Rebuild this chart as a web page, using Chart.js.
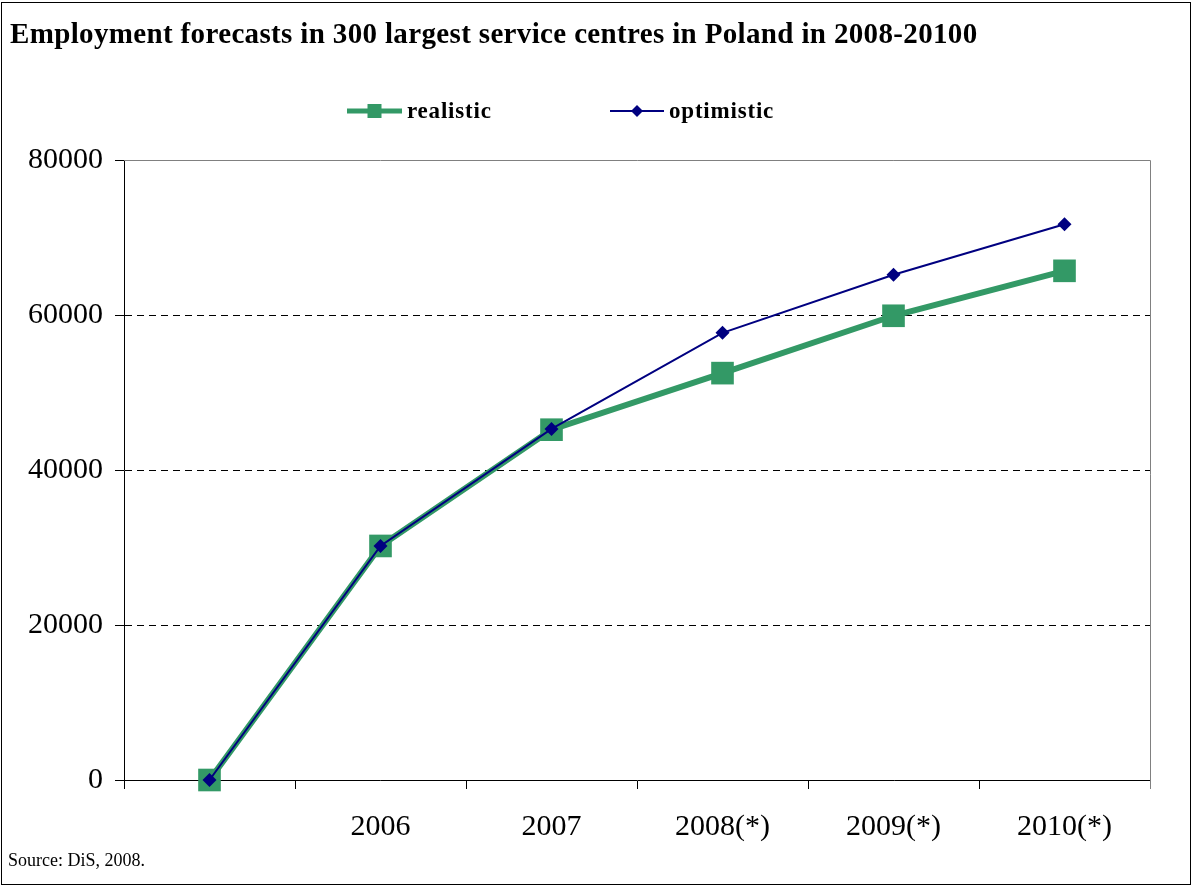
<!DOCTYPE html>
<html>
<head>
<meta charset="utf-8">
<script src="https://cdn.jsdelivr.net/npm/chart.js@4/dist/chart.umd.min.js"></script>
<style>
  html,body{margin:0;padding:0;background:#fff;}
  #wrap{position:relative;width:1192px;height:886px;overflow:hidden;}
  #frame{position:absolute;left:1px;top:2px;width:1190px;height:883px;border:1px solid #000;box-sizing:border-box;pointer-events:none;}
  #title{position:absolute;left:10px;top:19px;font:bold 29px/29px "Liberation Serif","Times New Roman",serif;color:#000;white-space:nowrap;letter-spacing:0.35px;}
  #source{position:absolute;left:8px;top:851px;font:18px/18px "Liberation Serif","Times New Roman",serif;color:#000;white-space:nowrap;}
  canvas{position:absolute;left:0;top:0;}
</style>
</head>
<body>
<div id="wrap">
  <canvas id="chart" width="1192" height="886"></canvas>
  <div id="title">Employment forecasts in 300 largest service centres in Poland in 2008-20100</div>
  <div id="source">Source: DiS, 2008.</div>
  <div id="frame"></div>
</div>
<script>
const years = ['', '2006', '2007', '2008(*)', '2009(*)', '2010(*)'];
const realistic = [0, 30200, 45200, 52500, 59900, 65700];
const optimistic = [0, 30200, 45300, 57700, 65200, 71700];
const yTicks = [0, 20000, 40000, 60000, 80000];

const GREEN = '#339966';
const NAVY = '#000080';
const SERIF = '"Liberation Serif","Times New Roman",serif';

/* grey box on top and right of the plot */
const plotBox = {
  id: 'plotBox',
  beforeDatasetsDraw(chart){
    const {ctx, chartArea:{left, top, right, bottom}} = chart;
    ctx.save();
    ctx.strokeStyle = '#808080';
    ctx.lineWidth = 1;
    ctx.beginPath();
    ctx.moveTo(left, top + 0.5);
    ctx.lineTo(right + 0.5, top + 0.5);
    ctx.lineTo(right + 0.5, bottom + 9);
    ctx.stroke();
    ctx.restore();
  }
};

/* legend: line + marker + bold label */
const lineLegend = {
  id: 'lineLegend',
  afterDraw(chart, args, opts){
    const {ctx} = chart;
    ctx.save();
    chart.data.datasets.forEach((ds, i) => {
      const it = opts.items[i];
      ctx.strokeStyle = ds.borderColor;
      ctx.lineWidth = it.lineWidth;
      ctx.beginPath();
      ctx.moveTo(it.x0, opts.y);
      ctx.lineTo(it.x1, opts.y);
      ctx.stroke();
      const cx = (it.x0 + it.x1) / 2;
      ctx.fillStyle = ds.pointBackgroundColor;
      ctx.beginPath();
      if (ds.pointStyle === 'rect') {
        ctx.rect(cx - it.size / 2, opts.y - it.size / 2, it.size, it.size);
      } else {
        ctx.moveTo(cx, opts.y - it.size / 2);
        ctx.lineTo(cx + it.size / 2, opts.y);
        ctx.lineTo(cx, opts.y + it.size / 2);
        ctx.lineTo(cx - it.size / 2, opts.y);
        ctx.closePath();
      }
      ctx.fill();
      ctx.fillStyle = '#000';
      ctx.font = 'bold 23px ' + SERIF;
      ctx.letterSpacing = '0.8px';
      ctx.textBaseline = 'middle';
      ctx.fillText(ds.label, it.x1 + 5, opts.y + 1);
    });
    ctx.restore();
  }
};

new Chart(document.getElementById('chart'), {
  type: 'line',
  data: {
    labels: years,
    datasets: [{
      label: 'realistic',
      data: realistic,
      borderColor: GREEN,
      backgroundColor: GREEN,
      pointBackgroundColor: GREEN,
      pointBorderColor: GREEN,
      borderWidth: 6,
      pointStyle: 'rect',
      pointRadius: 16,
      pointBorderWidth: 0,
      tension: 0,
      clip: false,
      order: 1
    }, {
      label: 'optimistic',
      data: optimistic,
      borderColor: NAVY,
      backgroundColor: NAVY,
      pointBackgroundColor: NAVY,
      pointBorderColor: NAVY,
      borderWidth: 2,
      pointStyle: 'rectRot',
      pointRadius: 7,
      pointBorderWidth: 0,
      tension: 0,
      clip: false,
      order: 0
    }]
  },
  options: {
    responsive: false,
    animation: false,
    devicePixelRatio: 1,
    layout: {padding: {top: 160, right: 42, left: 0, bottom: 0}},
    plugins: {
      legend: {display: false},
      title: {display: false},
      tooltip: {enabled: false},
      lineLegend: {
        y: 111,
        items: [
          {x0: 347, x1: 402, lineWidth: 5, size: 14},
          {x0: 610, x1: 664, lineWidth: 2, size: 12}
        ]
      }
    },
    scales: {
      x: {
        offset: true,
        afterFit(scale){ scale.height = 106; },
        grid: {offset: true, drawOnChartArea: false, drawTicks: true, tickLength: 9, color: '#000', tickColor: '#000'},
        border: {color: '#000', width: 1},
        ticks: {color: '#000', font: {family: SERIF, size: 30}, padding: 20, maxRotation: 0, autoSkip: false}
      },
      y: {
        min: 0,
        max: 80000,
        afterFit(scale){ scale.width = 124; },
        afterBuildTicks(scale){ scale.ticks = yTicks.map(v => ({value: v})); },
        grid: {
          color: c => (c.tick.value === 0 || c.tick.value === 80000) ? 'rgba(0,0,0,0)' : '#000',
          tickColor: '#000',
          tickLength: 9,
          tickBorderDash: [],
          lineWidth: 1
        },
        border: {color: '#000', width: 1, dash: [7, 5]},
        ticks: {color: '#000', font: {family: SERIF, size: 30}, padding: 12, callback: v => String(v)}
      }
    }
  },
  plugins: [plotBox, lineLegend]
});
</script>
</body>
</html>
